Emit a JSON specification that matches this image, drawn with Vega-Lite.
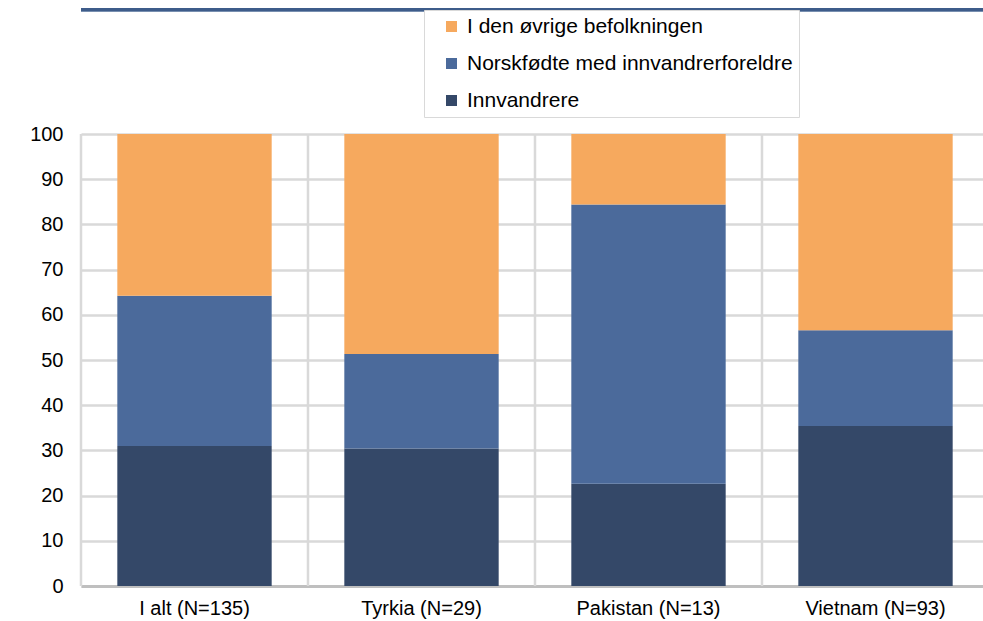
{
  "$schema": "https://vega.github.io/schema/vega-lite/v6.json",
  "autosize": "none",
  "width": 902,
  "height": 452,
  "padding": {"left": 81, "top": 134, "right": 0, "bottom": 35},
  "background": "white",
  "config": {
    "font": "Liberation Sans",
    "view": {"stroke": null},
    "axis": {"labelFont": "Liberation Sans", "labelFontSize": 20, "labelColor": "#000000", "ticks": false, "title": null}
  },
  "datasets": {
    "andeler": [
      {"land": "I alt (N=135)", "gruppe": "Innvandrere", "rekkefolge": 1, "prosent": 31.0},
      {"land": "I alt (N=135)", "gruppe": "Norskfødte med innvandrerforeldre", "rekkefolge": 2, "prosent": 33.2},
      {"land": "I alt (N=135)", "gruppe": "I den øvrige befolkningen", "rekkefolge": 3, "prosent": 35.8},
      {"land": "Tyrkia (N=29)", "gruppe": "Innvandrere", "rekkefolge": 1, "prosent": 30.4},
      {"land": "Tyrkia (N=29)", "gruppe": "Norskfødte med innvandrerforeldre", "rekkefolge": 2, "prosent": 20.9},
      {"land": "Tyrkia (N=29)", "gruppe": "I den øvrige befolkningen", "rekkefolge": 3, "prosent": 48.7},
      {"land": "Pakistan (N=13)", "gruppe": "Innvandrere", "rekkefolge": 1, "prosent": 22.6},
      {"land": "Pakistan (N=13)", "gruppe": "Norskfødte med innvandrerforeldre", "rekkefolge": 2, "prosent": 61.8},
      {"land": "Pakistan (N=13)", "gruppe": "I den øvrige befolkningen", "rekkefolge": 3, "prosent": 15.6},
      {"land": "Vietnam (N=93)", "gruppe": "Innvandrere", "rekkefolge": 1, "prosent": 35.4},
      {"land": "Vietnam (N=93)", "gruppe": "Norskfødte med innvandrerforeldre", "rekkefolge": 2, "prosent": 21.2},
      {"land": "Vietnam (N=93)", "gruppe": "I den øvrige befolkningen", "rekkefolge": 3, "prosent": 43.4}
    ],
    "kategorier": [
      {"land": "I alt (N=135)"},
      {"land": "Tyrkia (N=29)"},
      {"land": "Pakistan (N=13)"},
      {"land": "Vietnam (N=93)"}
    ]
  },
  "encoding": {
    "x": {
      "field": "land", "type": "nominal", "sort": null,
      "scale": {"range": [0, 908], "paddingInner": 0.32, "paddingOuter": 0.16},
      "axis": {
        "labelAngle": 0, "labelPadding": 12, "grid": false,
        "domainColor": "#bfbfbf", "domainWidth": 3
      }
    }
  },
  "layer": [
    {
      "data": {"name": "kategorier"},
      "mark": {"type": "rule", "color": "#d9d9d9", "strokeWidth": 2.5},
      "encoding": {
        "x": {"field": "land", "type": "nominal", "sort": null, "bandPosition": -0.2353}
      }
    },
    {
      "data": {"name": "andeler"},
      "mark": {"type": "bar"},
      "encoding": {
        "y": {
          "field": "prosent", "type": "quantitative", "stack": "zero",
          "scale": {"domain": [0, 100], "nice": false},
          "axis": {
            "values": [0, 10, 20, 30, 40, 50, 60, 70, 80, 90, 100],
            "domain": false, "labelPadding": 18,
            "grid": true, "gridColor": "#d9d9d9", "gridWidth": 2.5
          }
        },
        "order": {"field": "rekkefolge", "type": "quantitative", "sort": "ascending"},
        "color": {
          "field": "gruppe", "type": "nominal",
          "sort": ["I den øvrige befolkningen", "Norskfødte med innvandrerforeldre", "Innvandrere"],
          "scale": {"range": ["#f6a95e", "#4b6a9b", "#344868"]},
          "legend": {
            "title": null, "orient": "none", "legendX": 343, "legendY": -124,
            "symbolType": "square", "symbolSize": 121, "symbolStrokeWidth": 0, "symbolOffset": 11,
            "labelFontSize": 21, "labelFont": "Liberation Sans", "labelColor": "#000000",
            "labelOffset": 5, "labelLimit": 500, "rowPadding": 15,
            "padding": 6, "strokeColor": "#d9d9d9", "fillColor": "white"
          }
        }
      }
    },
    {
      "data": {"name": "kategorier"},
      "mark": {"type": "rule", "color": "#3e5c8a", "strokeWidth": 3, "clip": false},
      "encoding": {"y": {"datum": 127.5}, "x": null}
    }
  ]
}
